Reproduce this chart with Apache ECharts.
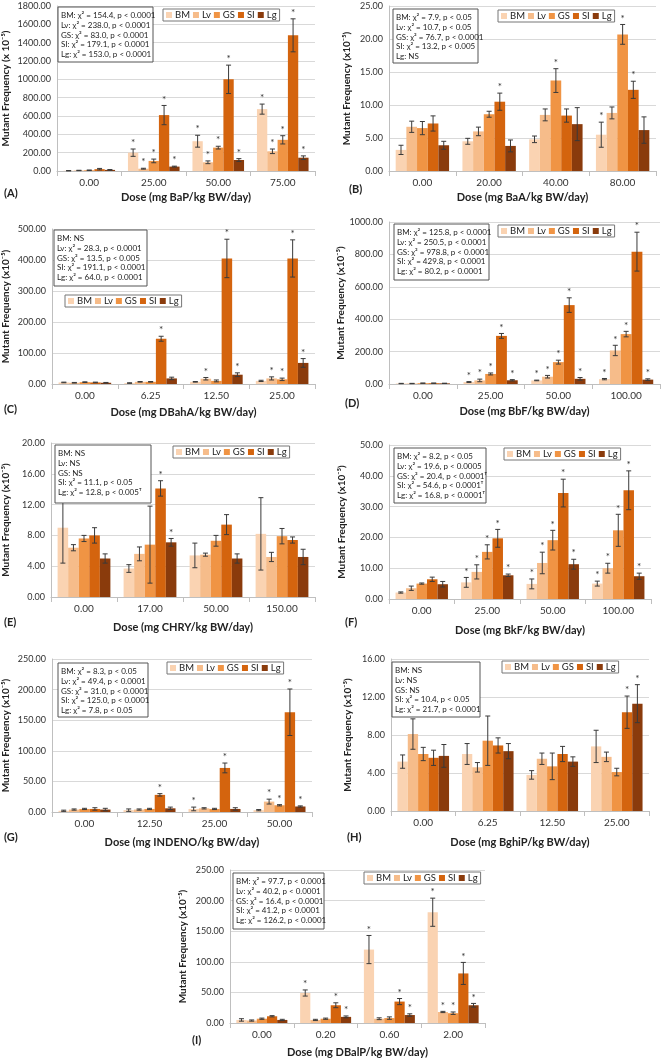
<!DOCTYPE html>
<html>
<head>
<meta charset="utf-8">
<script src="https://cdn.jsdelivr.net/npm/echarts@6/dist/echarts.min.js"></script>
<style>
html, body { margin: 0; padding: 0; background: #fff; }
#main { width: 662px; height: 1059px; }
</style>
</head>
<body>
<div id="main"></div>
<script>
var tissues = ['BM', 'Lv', 'GS', 'SI', 'Lg'];
var colors = ['#FAD3B2', '#F6BC8A', '#F09444', '#D4640E', '#8A3B0C'];

// rows = tissues (BM, Lv, GS, SI, Lg), columns = doses
// (A) BaP
var bapDoses = ['0.00', '25.00', '50.00', '75.00'];
var bapMean = [[3, 200, 325, 675], [6, 25, 95, 215], [8, 110, 255, 340], [20, 610, 1000, 1480], [12, 48, 120, 145]];
var bapErr = [[2, 40, 65, 55], [2, 5, 15, 25], [3, 20, 15, 45], [8, 105, 155, 180], [4, 5, 15, 20]];
var bapStar = [[0, 1, 1, 1], [0, 1, 1, 1], [0, 1, 1, 1], [0, 1, 1, 1], [0, 1, 1, 1]];
var bapStats = ['BM: χ² = 154.4, p < 0.0001', 'Lv: χ² = 238.0, p < 0.0001', 'GS: χ² = 83.0, p < 0.0001', 'SI: χ² = 179.1, p < 0.0001', 'Lg: χ² = 153.0, p < 0.0001'];

// (B) BaA
var baaDoses = ['0.00', '20.00', '40.00', '80.00'];
var baaMean = [[3.2, 4.5, 4.8, 5.5], [6.7, 6.0, 8.5, 8.8], [6.5, 8.6, 13.7, 20.7], [7.2, 10.5, 8.4, 12.3], [3.9, 3.8, 7.1, 6.2]];
var baaErr = [[0.7, 0.45, 0.5, 1.9], [0.85, 0.65, 0.9, 0.9], [1.0, 0.45, 1.8, 1.5], [1.15, 1.3, 1.0, 1.3], [0.6, 0.9, 2.5, 2.0]];
var baaStar = [[0, 0, 0, 1], [0, 0, 0, 0], [0, 0, 1, 1], [0, 1, 0, 1], [0, 0, 0, 0]];
var baaStats = ['BM: χ² = 7.9, p < 0.05', 'Lv: χ² = 10.7, p < 0.05', 'GS: χ² = 76.7, p < 0.0001', 'SI: χ² = 13.2, p < 0.005', 'Lg: NS'];

// (C) DBahA
var dbahaDoses = ['0.00', '6.25', '12.50', '25.00'];
var dbahaMean = [[5, 3, 7, 10], [4, 7, 17, 18], [6, 7, 10, 15], [5, 146, 405, 405], [4, 18, 30, 68]];
var dbahaErr = [[1, 1, 1, 2], [1, 1, 4, 5], [1, 1, 3, 4], [1, 8, 62, 60], [1, 4, 6, 14]];
var dbahaStar = [[0, 0, 0, 0], [0, 0, 1, 1], [0, 0, 0, 1], [0, 1, 1, 1], [0, 0, 1, 1]];
var dbahaStats = ['BM: NS', 'Lv: χ² = 28.3, p < 0.0001', 'GS: χ² = 13.5, p < 0.005', 'SI: χ² = 191.1, p < 0.0001', 'Lg: χ² = 64.0, p < 0.0001'];

// (D) BbF
var bbfDoses = ['0.00', '25.00', '50.00', '100.00'];
var bbfMean = [[3, 12, 22, 30], [3, 22, 45, 207], [5, 62, 135, 308], [5, 297, 487, 817], [4, 23, 32, 27]];
var bbfErr = [[1, 3, 2, 4], [1, 8, 8, 32], [1, 6, 12, 17], [1, 15, 45, 120], [1, 4, 8, 5]];
var bbfStar = [[0, 1, 1, 1], [0, 1, 1, 1], [0, 1, 1, 1], [0, 1, 1, 1], [0, 1, 1, 1]];
var bbfStats = ['BM: χ² = 125.8, p < 0.0001', 'Lv: χ² = 250.5, p < 0.0001', 'GS: χ² = 978.8, p < 0.0001', 'SI: χ² = 429.8, p < 0.0001', 'Lg: χ² = 80.2, p < 0.0001'];

// (E) CHRY
var chryDoses = ['0.00', '17.00', '50.00', '150.00'];
var chryMean = [[9.0, 3.7, 5.4, 8.2], [6.4, 5.6, 5.5, 5.2], [7.6, 6.8, 7.3, 7.9], [8.0, 14.1, 9.4, 7.4], [5.0, 7.1, 5.0, 5.2]];
var chryErr = [[4.6, 0.5, 1.6, 4.7], [0.4, 0.9, 0.2, 0.6], [0.4, 5.0, 0.7, 1.0], [1.0, 1.0, 1.3, 0.4], [0.6, 0.5, 0.6, 1.0]];
var chryStar = [[0, 0, 0, 0], [0, 0, 0, 0], [0, 0, 0, 0], [0, 1, 0, 0], [0, 1, 0, 0]];
var chryStats = ['BM: NS', 'Lv: NS', 'GS: NS', 'SI: χ² = 11.1, p < 0.05', 'Lg: χ² = 12.8, p < 0.005ᵀ'];

// (F) BkF
var bkfDoses = ['0.00', '25.00', '50.00', '100.00'];
var bkfMean = [[2.1, 5.4, 4.9, 5.0], [3.5, 8.8, 11.7, 10.0], [5.0, 15.3, 19.1, 22.3], [6.4, 19.7, 34.4, 35.3], [4.8, 7.7, 11.3, 7.4]];
var bkfErr = [[0.2, 1.6, 1.6, 0.8], [0.7, 2.3, 3.5, 1.6], [0.2, 2.3, 3.2, 5.2], [0.7, 2.9, 4.5, 6.3], [0.9, 0.4, 1.6, 1.0]];
var bkfStar = [[0, 1, 1, 1], [0, 1, 1, 1], [0, 1, 1, 1], [0, 1, 1, 1], [0, 1, 1, 1]];
var bkfStats = ['BM: χ² = 8.2, p < 0.05', 'Lv: χ² = 19.6, p < 0.0005', 'GS: χ² = 20.4, p < 0.0001ᵀ', 'SI: χ² = 54.6, p < 0.0001ᵀ', 'Lg: χ² = 16.8, p < 0.0001ᵀ'];

// (G) INDENO
var indenoDoses = ['0.00', '12.50', '25.00', '50.00'];
var indenoMean = [[2, 3, 5, 3], [4, 4, 6, 17], [5, 5, 5, 11], [5, 28, 72, 163], [4, 6, 5, 9]];
var indenoErr = [[1, 2, 3, 1], [1, 1, 1, 4], [1, 1, 1, 1], [2, 2, 8, 38], [2, 2, 2, 1]];
var indenoStar = [[0, 0, 1, 0], [0, 0, 0, 1], [0, 0, 0, 1], [0, 1, 1, 1], [0, 0, 0, 1]];
var indenoStats = ['BM: χ² = 8.3, p < 0.05', 'Lv: χ² = 49.4, p < 0.0001', 'GS: χ² = 31.0, p < 0.0001', 'SI: χ² = 125.0, p < 0.0001', 'Lg: χ² = 7.8, p < 0.05'];

// (H) BghiP
var bghipDoses = ['0.00', '6.25', '12.50', '25.00'];
var bghipMean = [[5.2, 6.0, 3.8, 6.8], [8.1, 4.6, 5.5, 5.7], [6.0, 7.4, 4.7, 4.1], [5.6, 6.9, 6.0, 10.4], [5.8, 6.3, 5.2, 11.3]];
var bghipErr = [[0.7, 1.1, 0.45, 1.7], [1.6, 0.5, 0.6, 0.5], [0.7, 2.6, 1.4, 0.4], [0.8, 0.8, 0.8, 1.7], [1.2, 0.8, 0.5, 2.0]];
var bghipStar = [[0, 0, 0, 0], [0, 0, 0, 0], [0, 0, 0, 0], [0, 0, 0, 1], [0, 0, 0, 1]];
var bghipStats = ['BM: NS', 'Lv: NS', 'GS: NS', 'SI: χ² = 10.4, p < 0.05', 'Lg: χ² = 21.7, p < 0.0001'];

// (I) DBalP
var dbalpDoses = ['0.00', '0.20', '0.60', '2.00'];
var dbalpMean = [[5, 49, 120, 181], [4, 5, 7, 18], [7, 7, 8, 16], [11, 29, 35, 81], [5, 10, 13, 29]];
var dbalpErr = [[2, 5, 23, 23], [1, 1, 1.5, 1], [1, 1, 2, 2], [1, 4, 5, 18], [1, 1.5, 2, 3]];
var dbalpStar = [[0, 1, 1, 1], [0, 0, 0, 1], [0, 0, 0, 1], [0, 1, 1, 1], [0, 1, 1, 1]];
var dbalpStats = ['BM: χ² = 97.7, p < 0.0001', 'Lv: χ² = 40.2, p < 0.0001', 'GS: χ² = 16.4, p < 0.0001', 'SI: χ² = 41.2, p < 0.0001', 'Lg: χ² = 126.2, p < 0.0001'];

var yTitle = 'Mutant Frequency (x10⁻⁵)';

// layout of each panel
var panels = [
  { doses: bapDoses, mean: bapMean, err: bapErr, star: bapStar, stats: bapStats, tag: '(A)', x: 'Dose (mg BaP/kg BW/day)', y: 'Mutant Frequency (x 10⁻⁵)',
    max: 1800, step: 200, grid: [57, 6, 258, 165], yGap: 46, xGap: 21, box: [58, 7, 95, 55], leg: [163, 9], tagPos: [4, 193] },
  { doses: baaDoses, mean: baaMean, err: baaErr, star: baaStar, stats: baaStats, tag: '(B)', x: 'Dose (mg BaA/kg BW/day)', y: yTitle,
    max: 25, step: 5, grid: [389, 6, 267, 165], yGap: 37, xGap: 21, box: [393, 9, 85, 54], leg: [498, 10], tagPos: [349, 189] },
  { doses: dbahaDoses, mean: dbahaMean, err: dbahaErr, star: dbahaStar, stats: dbahaStats, tag: '(C)', x: 'Dose (mg DBahA/kg BW/day)', y: yTitle,
    max: 500, step: 100, grid: [50, 229, 265, 155], yGap: 41, xGap: 23, box: [54, 230, 93, 56], leg: [65, 295], tagPos: [4, 409] },
  { doses: bbfDoses, mean: bbfMean, err: bbfErr, star: bbfStar, stats: bbfStats, tag: '(D)', x: 'Dose (mg BbF/kg BW/day)', y: yTitle,
    max: 1000, step: 200, grid: [389, 222, 271, 162], yGap: 42, xGap: 22, box: [394, 224, 95, 56], leg: [498, 225], tagPos: [345, 403] },
  { doses: chryDoses, mean: chryMean, err: chryErr, star: chryStar, stats: chryStats, tag: '(E)', x: 'Dose (mg CHRY/kg BW/day)', y: yTitle,
    max: 20, step: 4, grid: [48, 443, 267, 154], yGap: 40, xGap: 25, box: [55, 445, 96, 58], leg: [173, 446], tagPos: [4, 622] },
  { doses: bkfDoses, mean: bkfMean, err: bkfErr, star: bkfStar, stats: bkfStats, tag: '(F)', x: 'Dose (mg BkF/kg BW/day)', y: yTitle,
    max: 50, step: 10, grid: [389, 445, 262, 154], yGap: 42, xGap: 26, box: [394, 448, 92, 55], leg: [504, 448], tagPos: [345, 622] },
  { doses: indenoDoses, mean: indenoMean, err: indenoErr, star: indenoStar, stats: indenoStats, tag: '(G)', x: 'Dose (mg INDENO/kg BW/day)', y: yTitle,
    max: 250, step: 50, grid: [52, 659, 260, 153], yGap: 41, xGap: 25, box: [58, 663, 90, 54], leg: [167, 662], tagPos: [4, 837] },
  { doses: bghipDoses, mean: bghipMean, err: bghipErr, star: bghipStar, stats: bghipStats, tag: '(H)', x: 'Dose (mg BghiP/kg BW/day)', y: yTitle,
    max: 16, step: 4, grid: [391, 659, 258, 152], yGap: 38, xGap: 26, box: [392, 662, 88, 55], leg: [502, 661], tagPos: [347, 837] },
  { doses: dbalpDoses, mean: dbalpMean, err: dbalpErr, star: dbalpStar, stats: dbalpStats, tag: '(I)', x: 'Dose (mg DBalP/kg BW/day)', y: yTitle,
    max: 250, step: 50, grid: [230, 870, 255, 158], yGap: 42, xGap: 24, box: [233, 873, 91, 56], leg: [364, 872], tagPos: [192, 1040] }
];

var FONT = 'Lato, "Open Sans", sans-serif';

function errorBars(params, api) {
  var cat = api.value(0), s = api.value(1), m = api.value(2), e = api.value(3), star = api.value(4);
  var band = api.size([1, 0])[0];
  var bw = band * 0.8 / 5;
  var c = api.coord([cat, m]);
  var x = c[0] + (s - 2) * bw;
  var hi = api.coord([cat, m + e])[1];
  var lo = api.coord([cat, Math.max(m - e, 0)])[1];
  var st = { stroke: '#3a3a3a', lineWidth: 1 };
  var kids = [
    { type: 'line', shape: { x1: x, y1: hi, x2: x, y2: lo }, style: st },
    { type: 'line', shape: { x1: x - 2.5, y1: hi, x2: x + 2.5, y2: hi }, style: st },
    { type: 'line', shape: { x1: x - 2.5, y1: lo, x2: x + 2.5, y2: lo }, style: st }
  ];
  if (star) {
    kids.push({ type: 'text', x: x, y: hi - 1,
      style: { text: '*', fill: '#333', fontSize: 10, fontFamily: FONT, textAlign: 'center', textVerticalAlign: 'bottom' } });
  }
  return { type: 'group', children: kids };
}

var grid = [], xAxis = [], yAxis = [], series = [], legend = [], graphic = [];

panels.forEach(function (p, i) {
  grid.push({ left: p.grid[0], top: p.grid[1], width: p.grid[2], height: p.grid[3] });
  xAxis.push({
    type: 'category', gridIndex: i, data: p.doses,
    axisLine: { lineStyle: { color: '#bfbfbf' } },
    axisTick: { show: true, length: 5, lineStyle: { color: '#bfbfbf' } },
    axisLabel: { fontSize: 10, color: '#333', margin: 7, fontFamily: FONT },
    name: p.x, nameLocation: 'middle', nameGap: p.xGap,
    nameTextStyle: { fontSize: 11, fontWeight: 'bold', color: '#222', fontFamily: FONT }
  });
  yAxis.push({
    type: 'value', gridIndex: i, min: 0, max: p.max, interval: p.step,
    axisLine: { show: true, lineStyle: { color: '#bfbfbf' } },
    axisTick: { show: false },
    axisLabel: { fontSize: 9, color: '#333', margin: 6, fontFamily: FONT, formatter: function (v) { return v.toFixed(2); } },
    splitLine: { lineStyle: { color: '#d9d9d9' } },
    name: p.y, nameLocation: 'middle', nameGap: p.yGap,
    nameTextStyle: { fontSize: 10, fontWeight: 'bold', color: '#222', fontFamily: FONT }
  });
  var errData = [];
  tissues.forEach(function (t, s) {
    series.push({
      type: 'bar', name: t, xAxisIndex: i, yAxisIndex: i,
      data: p.mean[s], barGap: '0%', barCategoryGap: '20%',
      itemStyle: { color: colors[s] }
    });
    p.mean[s].forEach(function (m, c) {
      errData.push([c, s, m, p.err[s][c], p.star[s][c]]);
    });
  });
  series.push({
    type: 'custom', xAxisIndex: i, yAxisIndex: i, renderItem: errorBars,
    data: errData, encode: { x: 0, y: 2 }, z: 5, silent: true
  });
  legend.push({
    left: p.leg[0], top: p.leg[1], data: tissues, icon: 'rect',
    itemWidth: 6, itemHeight: 6, itemGap: 3, padding: [1, 3],
    borderColor: '#777', borderWidth: 1, backgroundColor: '#fff',
    textStyle: { fontSize: 9.5, color: '#222', fontFamily: FONT, padding: [0, 0, 0, -2] }
  });
  graphic.push({
    type: 'rect', z: 10, shape: { x: p.box[0], y: p.box[1], width: p.box[2], height: p.box[3] },
    style: { fill: '#fff', stroke: '#555', lineWidth: 1 }
  });
  graphic.push({
    type: 'text', z: 11, x: p.box[0] + 3, y: p.box[1] + 4,
    style: { text: p.stats.join('\n'), fontSize: 8, fontFamily: FONT, lineHeight: 9.6, fill: '#222', textVerticalAlign: 'top' }
  });
  graphic.push({
    type: 'text', z: 11, x: p.tagPos[0], y: p.tagPos[1],
    style: { text: p.tag, fontSize: 11, fontWeight: 'bold', fontFamily: FONT, fill: '#222', textVerticalAlign: 'middle' }
  });
});

var chart = echarts.init(document.getElementById('main'));
chart.setOption({
  animation: false,
  textStyle: { fontFamily: FONT },
  grid: grid, xAxis: xAxis, yAxis: yAxis,
  legend: legend, series: series, graphic: graphic
});
</script>
</body>
</html>
